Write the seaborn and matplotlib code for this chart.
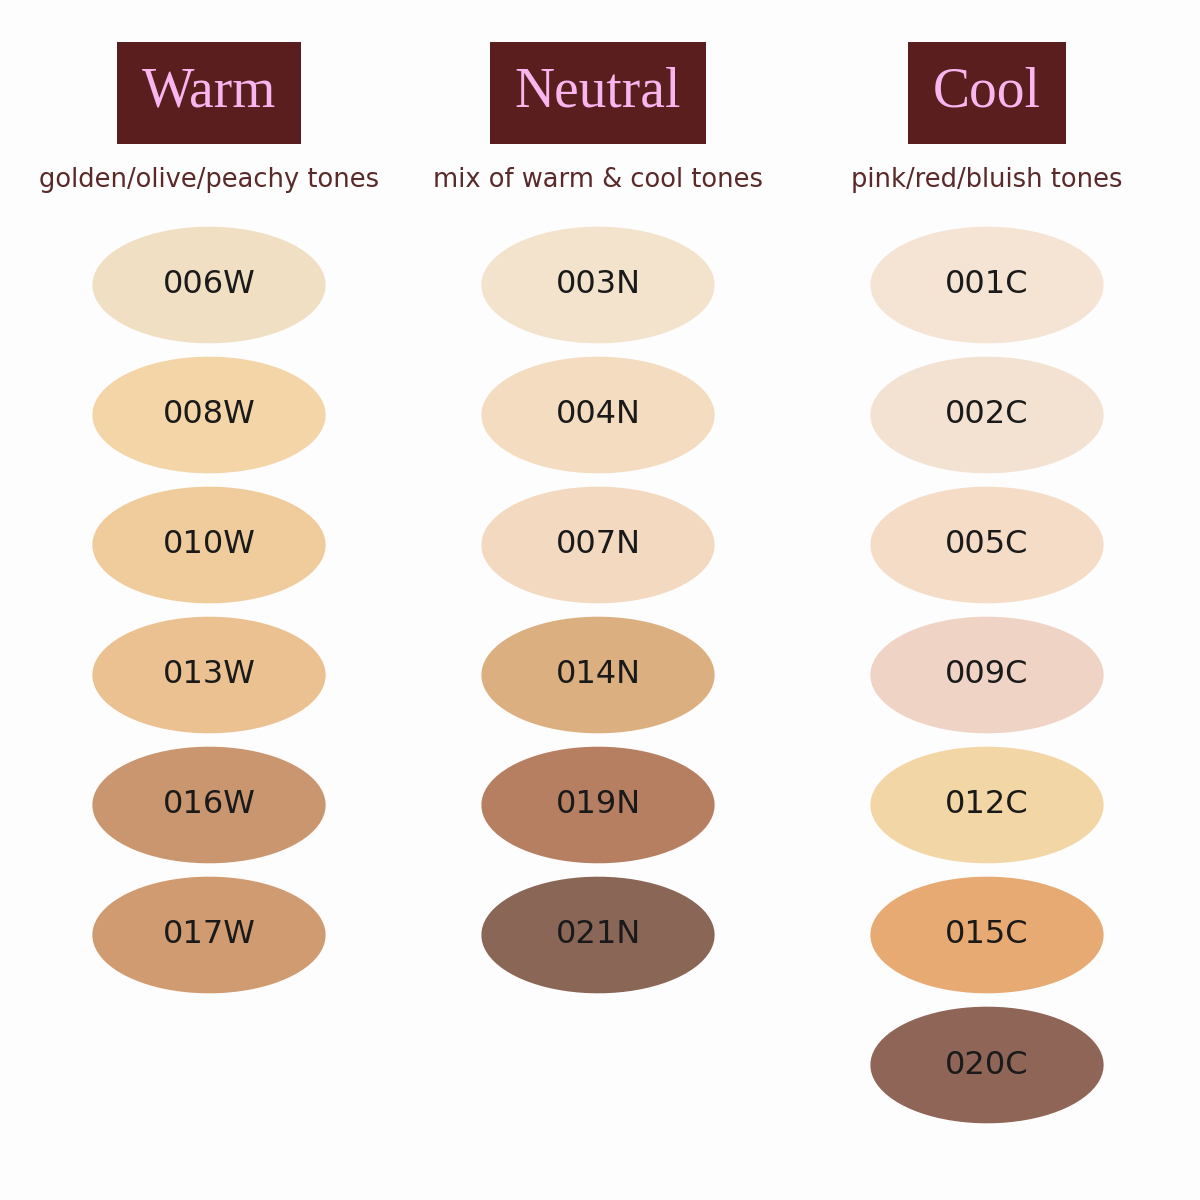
import matplotlib
matplotlib.use("Agg")
import matplotlib.pyplot as plt
import seaborn as sns
import pandas as pd
import numpy as np
from matplotlib.path import Path

groups = ["Warm", "Neutral", "Cool"]
subtitles = ["golden/olive/peachy tones", "mix of warm & cool tones", "pink/red/bluish tones"]
warm_codes = ["006W", "008W", "010W", "013W", "016W", "017W"]
warm_colors = ["#f1dfc4", "#f3d5a8", "#f0cc9c", "#ebc192", "#c9966f", "#d09b70"]
neutral_codes = ["003N", "004N", "007N", "014N", "019N", "021N"]
neutral_colors = ["#f4e3cc", "#f3dcbf", "#f2d9c0", "#dcaf80", "#b77f62", "#8a6656"]
cool_codes = ["001C", "002C", "005C", "009C", "012C", "015C", "020C"]
cool_colors = ["#f5e4d4", "#f3e2d2", "#f5dcc6", "#efd3c4", "#f2d6a6", "#e6aa72", "#8e6557"]

rows = []
for gi, (codes, cols) in enumerate([(warm_codes, warm_colors), (neutral_codes, neutral_colors), (cool_codes, cool_colors)]):
    for ri, (c, col) in enumerate(zip(codes, cols)):
        rows.append({"group": gi, "row": ri, "code": c, "color": col})
df = pd.DataFrame(rows)

fig = plt.figure(figsize=(12, 12), dpi=100, facecolor="#fdfdfd")
ax = fig.add_axes([0, 0, 1, 1])
ax.set_facecolor("#fdfdfd")

t = np.linspace(0, 2 * np.pi, 80)
ell = Path(np.column_stack([np.cos(t) * 1.0, np.sin(t) * 0.5]), closed=True)

sns.scatterplot(data=df, x="group", y="row", hue="code",
                palette=dict(zip(df["code"], df["color"])),
                marker=ell, s=168 ** 2, linewidth=0, legend=False, ax=ax)

ax.set_xlim(-209 / 389, (1200 - 209) / 389)
ax.set_ylim((1200 - 285) / 130, -285 / 130)
ax.axis("off")

for _, r in df.iterrows():
    ax.text(r["group"], r["row"], r["code"], ha="center", va="center",
            fontsize=23, family="DejaVu Sans", color="#1a1a1a")

for gi, (g, s) in enumerate(zip(groups, subtitles)):
    ax.text(gi, -1.48, g, ha="center", va="center", fontsize=40,
            family="Liberation Serif", color="#f7b6ee",
            bbox=dict(boxstyle="square,pad=0.45", fc="#5a1e1e", ec="none"))
    ax.text(gi, -0.81, s, ha="center", va="center", fontsize=18.5,
            family="DejaVu Sans", color="#5a2a2a")

fig.savefig("out.png", dpi=100, facecolor=fig.get_facecolor())
